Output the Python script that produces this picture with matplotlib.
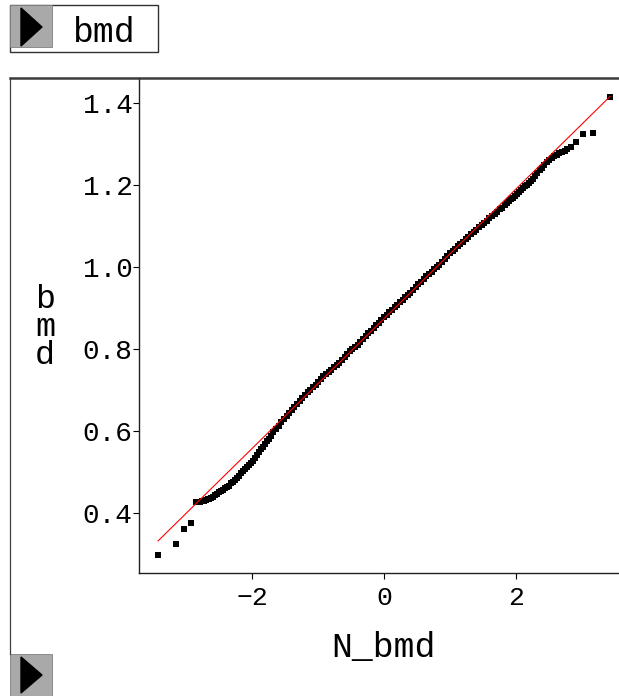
import numpy as np
import matplotlib.pyplot as plt
from matplotlib.patches import Rectangle, Polygon
from matplotlib.lines import Line2D

plt.rcParams["font.family"] = ["Liberation Mono", "DejaVu Sans Mono"]

# normal quantile (x) and bmd value (y)
quantile_tail = [-3.43, -3.16, -3.03, -2.93]
bmd_tail = [0.298, 0.325, 0.362, 0.376]

quantile_low = [-2.86, -2.83, -2.80, -2.77, -2.74, -2.71, -2.68, -2.65, -2.62,
                -2.59, -2.56, -2.53, -2.50, -2.47, -2.44, -2.41, -2.38, -2.35,
                -2.32, -2.29, -2.26, -2.23, -2.20, -2.17, -2.14, -2.11, -2.08,
                -2.05, -2.02, -1.99, -1.96, -1.93, -1.90, -1.87, -1.84, -1.81,
                -1.78, -1.75]
bmd_low = [0.427, 0.427, 0.428, 0.429, 0.430, 0.431, 0.433, 0.434, 0.437,
           0.440, 0.443, 0.447, 0.451, 0.454, 0.457, 0.460, 0.464, 0.467,
           0.472, 0.476, 0.481, 0.486, 0.491, 0.497, 0.502, 0.507, 0.512,
           0.517, 0.523, 0.528, 0.535, 0.542, 0.549, 0.556, 0.562, 0.569,
           0.575, 0.581]

quantile_mid = [-1.72, -1.68, -1.64, -1.60, -1.56, -1.52, -1.48, -1.44, -1.40,
                -1.36, -1.32, -1.28, -1.24, -1.20, -1.16, -1.12, -1.08, -1.04,
                -1.00, -0.96, -0.92, -0.88, -0.84, -0.80, -0.76, -0.72, -0.68,
                -0.64, -0.60, -0.56, -0.52, -0.48, -0.44, -0.40, -0.36, -0.32,
                -0.28, -0.24, -0.20, -0.16, -0.12, -0.08, -0.04, 0.00, 0.04,
                0.08, 0.12, 0.16, 0.20, 0.24, 0.28, 0.32, 0.36, 0.40, 0.44,
                0.48, 0.52, 0.56, 0.60, 0.64, 0.68, 0.72, 0.76, 0.80, 0.84,
                0.88, 0.92, 0.96, 1.00, 1.04, 1.08, 1.12, 1.16, 1.20, 1.24,
                1.28, 1.32, 1.36, 1.40, 1.44, 1.48, 1.52, 1.56, 1.60, 1.64,
                1.68, 1.72]
bmd_mid = [0.589, 0.598, 0.605, 0.613, 0.621, 0.629, 0.636, 0.643, 0.652,
           0.659, 0.666, 0.674, 0.681, 0.687, 0.695, 0.701, 0.707, 0.713,
           0.719, 0.726, 0.733, 0.738, 0.743, 0.749, 0.755, 0.760, 0.767,
           0.774, 0.780, 0.788, 0.794, 0.799, 0.805, 0.811, 0.817, 0.824,
           0.831, 0.838, 0.844, 0.852, 0.858, 0.864, 0.871, 0.877, 0.884,
           0.891, 0.896, 0.902, 0.908, 0.914, 0.919, 0.926, 0.931, 0.937,
           0.945, 0.951, 0.958, 0.964, 0.971, 0.977, 0.982, 0.989, 0.994,
           1.000, 1.006, 1.012, 1.019, 1.026, 1.033, 1.039, 1.045, 1.051,
           1.056, 1.062, 1.068, 1.073, 1.080, 1.085, 1.091, 1.097, 1.103,
           1.108, 1.113, 1.119, 1.124, 1.129, 1.135]

quantile_high = [1.76, 1.79, 1.83, 1.86, 1.89, 1.92, 1.95, 1.98, 2.02, 2.05,
                 2.08, 2.11, 2.14, 2.17, 2.20, 2.23, 2.26, 2.29, 2.32, 2.36,
                 2.40, 2.43, 2.47, 2.51, 2.55, 2.58, 2.62, 2.66, 2.70, 2.74,
                 2.78, 2.84, 2.92, 3.02, 3.17, 3.43]
bmd_high = [1.141, 1.145, 1.151, 1.156, 1.161, 1.165, 1.169, 1.173, 1.177,
            1.182, 1.187, 1.192, 1.197, 1.201, 1.205, 1.210, 1.215, 1.222,
            1.229, 1.236, 1.242, 1.249, 1.257, 1.262, 1.266, 1.270, 1.274,
            1.278, 1.281, 1.284, 1.287, 1.292, 1.304, 1.324, 1.328, 1.415]

fit_mean = 0.874
fit_std = 0.158

y_ticks = [0.4, 0.6, 0.8, 1.0, 1.2, 1.4]
x_ticks = [-2, 0, 2]

W, H = 619, 696


def fx(px):
    return px / W


def fy(py):
    return 1 - py / H


fig = plt.figure(figsize=(6.19, 6.96), dpi=100)

# plot area
ax = fig.add_axes([fx(139), fy(573), 1 - fx(139) + 0.01, fy(78) - fy(573)])

q = np.array(quantile_tail + quantile_low + quantile_mid + quantile_high)
v = np.array(bmd_tail + bmd_low + bmd_mid + bmd_high)
ax.plot(q, v, linestyle="none", marker="s", markersize=4.8,
        color="black", markeredgewidth=0, zorder=2)

# reference line from the fitted mean / std
qline = np.array([q.min(), q.max()])
ax.plot(qline, fit_mean + fit_std * qline, color="red", linewidth=0.8, zorder=3)

ax.set_xlim(-3.72, 3.66)
ax.set_ylim(0.2537, 1.461)
ax.set_xticks(x_ticks)
ax.set_xticklabels(["\u22122", "0", "2"], fontsize=19)
ax.set_yticks(y_ticks)
ax.set_yticklabels([f"{t:.1f}" for t in y_ticks], fontsize=20)
ax.tick_params(axis="y", direction="out", length=4.5, width=0.8, pad=0)
ax.tick_params(axis="x", direction="out", length=4.5, width=0.8, pad=5)
ax.spines["right"].set_visible(False)
ax.spines["top"].set_visible(False)
for s in ["left", "bottom"]:
    ax.spines[s].set_linewidth(1.0)
    ax.spines[s].set_color("#202020")

# axis labels
fig.text(fx(383), fy(657), "N_bmd", fontsize=25, ha="center", va="baseline")
for ch, base in zip("bmd", [308, 336, 364]):
    fig.text(fx(45), fy(base), ch, fontsize=24, ha="center", va="baseline")

# outer frame
fig.add_artist(Line2D([fx(10), 1.0], [fy(78), fy(78)], color="#3c3c3c",
                      linewidth=1.8, transform=fig.transFigure))
fig.add_artist(Line2D([fx(10), fx(10)], [fy(78), fy(654)], color="#404040",
                      linewidth=0.9, transform=fig.transFigure))

# header box
fig.add_artist(Rectangle((fx(10), fy(52)), fx(158) - fx(10), fy(5) - fy(52),
                         facecolor="white", edgecolor="#303030", linewidth=1.0,
                         transform=fig.transFigure))
fig.add_artist(Rectangle((fx(10), fy(47)), fx(52) - fx(10), fy(5) - fy(47),
                         facecolor="#a9a9a9", edgecolor="#808080", linewidth=0.6,
                         transform=fig.transFigure))
fig.add_artist(Polygon([(fx(21), fy(8)), (fx(21), fy(46)), (fx(42), fy(27))],
                       closed=True, facecolor="black", edgecolor="black",
                       transform=fig.transFigure))
fig.text(fx(104), fy(42), "bmd", fontsize=25, ha="center", va="baseline")

# bottom disclosure button
fig.add_artist(Rectangle((fx(10), 0), fx(52) - fx(10), fy(654),
                         facecolor="#a9a9a9", edgecolor="#808080", linewidth=0.6,
                         transform=fig.transFigure))
fig.add_artist(Polygon([(fx(21), fy(657)), (fx(21), fy(693)), (fx(42), fy(675))],
                       closed=True, facecolor="black", edgecolor="black",
                       transform=fig.transFigure))

fig.savefig("out.png", dpi=100)
